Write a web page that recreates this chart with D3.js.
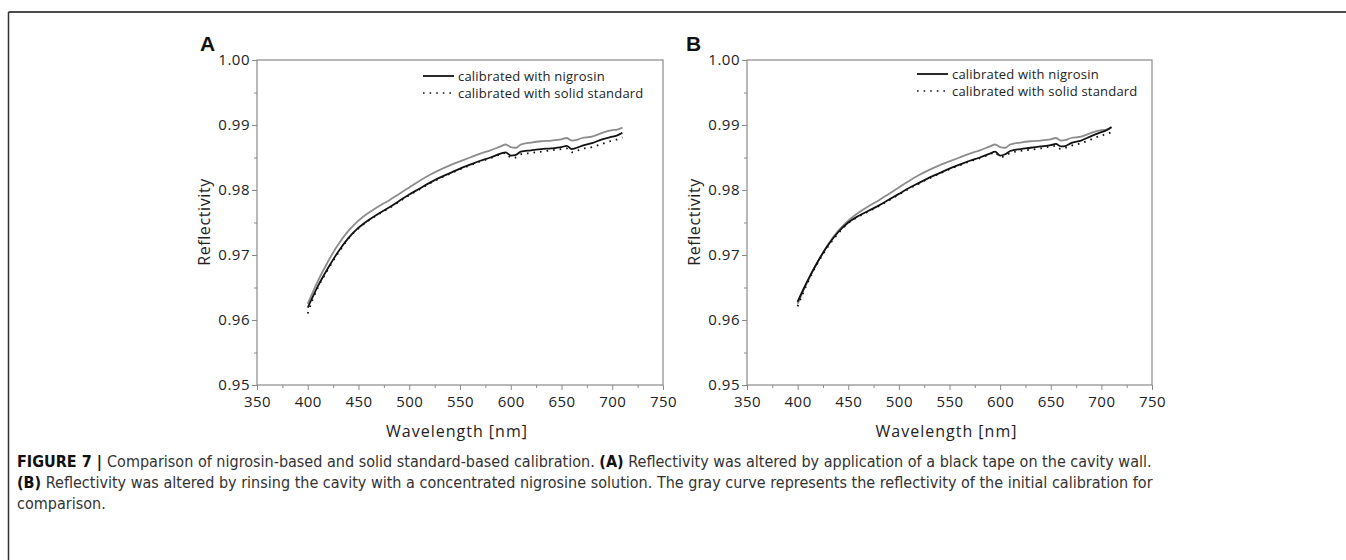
<!DOCTYPE html>
<html><head><meta charset="utf-8">
<script src="https://cdn.jsdelivr.net/npm/d3@7"></script>
<style>
html,body{margin:0;padding:0;background:#fff;}
svg{display:block;}
</style></head>
<body>
<svg id="c" width="1346" height="560"></svg>
<script>
const wavelengths = [400,405,410,420,430,440,450,460,470,480,490,500,510,520,530,540,550,560,570,580,590,595,600,605,610,620,630,640,650,655,660,665,670,680,690,700,705,710];
const initialCalibration = [0.9625,0.9643,0.9660,0.9690,0.9716,0.9737,0.9753,0.9765,0.9775,0.9784,0.9794,0.9804,0.9814,0.9823,0.9831,0.9838,0.9844,0.9850,0.9856,0.9861,0.9867,0.9870,0.9866,0.9865,0.9870,0.9873,0.9875,0.9876,0.9878,0.9880,0.9876,0.9877,0.9880,0.9882,0.9888,0.9892,0.9893,0.9896];
const nigrosinA = [0.9619,0.9636,0.9652,0.9680,0.9705,0.9726,0.9742,0.9754,0.9764,0.9773,0.9783,0.9793,0.9802,0.9811,0.9819,0.9826,0.9833,0.9839,0.9845,0.9850,0.9856,0.9858,0.9853,0.9854,0.9859,0.9861,0.9863,0.9864,0.9866,0.9868,0.9863,0.9865,0.9868,0.9872,0.9878,0.9882,0.9884,0.9888];
const solidA = [0.9610,0.9632,0.9650,0.9678,0.9703,0.9725,0.9741,0.9753,0.9763,0.9772,0.9782,0.9792,0.9801,0.9810,0.9818,0.9825,0.9832,0.9838,0.9844,0.9849,0.9855,0.9857,0.9850,0.9850,0.9855,0.9857,0.9859,0.9861,0.9863,0.9864,0.9858,0.9860,0.9863,0.9866,0.9871,0.9876,0.9878,0.9881];
const nigrosinB = [0.9628,0.9645,0.9661,0.9690,0.9715,0.9735,0.9750,0.9760,0.9768,0.9776,0.9785,0.9794,0.9803,0.9811,0.9819,0.9826,0.9833,0.9839,0.9845,0.9850,0.9856,0.9859,0.9853,0.9855,0.9860,0.9863,0.9865,0.9867,0.9869,0.9871,0.9867,0.9868,0.9872,0.9876,0.9883,0.9889,0.9892,0.9897];
const solidB = [0.9621,0.9640,0.9658,0.9688,0.9713,0.9733,0.9749,0.9759,0.9767,0.9775,0.9784,0.9793,0.9802,0.9810,0.9818,0.9825,0.9832,0.9838,0.9844,0.9849,0.9855,0.9858,0.9851,0.9852,0.9857,0.9860,0.9862,0.9864,0.9867,0.9868,0.9863,0.9865,0.9868,0.9872,0.9878,0.9884,0.9886,0.9889];
const xTicks = [350,400,450,500,550,600,650,700,750];
const yTicks = [0.95,0.96,0.97,0.98,0.99,1.00];
const legendLabels = ["calibrated with nigrosin","calibrated with solid standard"];
const panelLabels = ["A","B"];
const axisTitles = {x:"Wavelength [nm]", y:"Reflectivity"};

const svg = d3.select("#c");
const FONT = "'Open Sans', 'DejaVu Sans', sans-serif";

// outer frame
svg.append("line").attr("x1",8.5).attr("x2",1346).attr("y1",12).attr("y2",12).attr("stroke","#111").attr("stroke-width",1.5);
svg.append("line").attr("x1",8.5).attr("x2",8.5).attr("y1",12).attr("y2",560).attr("stroke","#333").attr("stroke-width",1.5);

const panels = [
  {label:panelLabels[0], left:257, right:663, nig:nigrosinA, sol:solidA, legX:423, legY:76, labX:200},
  {label:panelLabels[1], left:747, right:1152, nig:nigrosinB, sol:solidB, legX:917, legY:74, labX:686}
];
const plotTop = 60, plotBottom = 385;

panels.forEach(p => {
  const x = d3.scaleLinear().domain([350,750]).range([p.left,p.right]);
  const y = d3.scaleLinear().domain([0.95,1.00]).range([plotBottom,plotTop]);
  const g = svg.append("g");

  // plot box
  g.append("rect").attr("x",p.left).attr("y",plotTop).attr("width",p.right-p.left).attr("height",plotBottom-plotTop)
    .attr("fill","none").attr("stroke","#8a8a8a").attr("stroke-width",1.2);

  // minor ticks
  const xMinor = d3.range(375,750,50);
  g.append("g").attr("transform",`translate(0,${plotBottom})`)
    .call(d3.axisBottom(x).tickValues(xMinor).tickSize(3).tickFormat(""))
    .call(a=>a.select(".domain").remove())
    .call(a=>a.selectAll("line").attr("stroke","#8a8a8a"));
  const yMinor = [0.955,0.965,0.975,0.985,0.995];
  g.append("g").attr("transform",`translate(${p.left},0)`)
    .call(d3.axisLeft(y).tickValues(yMinor).tickSize(3).tickFormat(""))
    .call(a=>a.select(".domain").remove())
    .call(a=>a.selectAll("line").attr("stroke","#8a8a8a"));

  // major axes
  const xa = g.append("g").attr("transform",`translate(0,${plotBottom})`)
    .call(d3.axisBottom(x).tickValues(xTicks).tickSize(5).tickPadding(6).tickFormat(d3.format("d")));
  xa.select(".domain").remove();
  xa.selectAll("line").attr("stroke","#8a8a8a");
  xa.selectAll("text").attr("font-family",FONT).attr("font-size",15).attr("fill","#222").attr("letter-spacing","0.5px");

  const ya = g.append("g").attr("transform",`translate(${p.left},0)`)
    .call(d3.axisLeft(y).tickValues(yTicks).tickSize(5).tickPadding(2).tickFormat(d3.format(".2f")));
  ya.select(".domain").remove();
  ya.selectAll("line").attr("stroke","#8a8a8a");
  ya.selectAll("text").attr("font-family",FONT).attr("font-size",15).attr("fill","#222").attr("letter-spacing","0.5px");

  // axis titles
  g.append("text").attr("x",(p.left+p.right)/2 - 3).attr("y",437).attr("text-anchor","middle")
    .attr("font-family",FONT).attr("font-size",16).attr("fill","#222").attr("letter-spacing","1px").text(axisTitles.x);
  g.append("text").attr("transform",`translate(${p.left-47},222) rotate(-90)`).attr("text-anchor","middle")
    .attr("font-family",FONT).attr("font-size",16).attr("fill","#222").attr("letter-spacing","0.6px").text(axisTitles.y);

  // panel label
  g.append("text").attr("x",p.labX).attr("y",51).attr("font-family","'Liberation Sans', Arial, sans-serif")
    .attr("font-weight","bold").attr("font-size",21).attr("fill","#111").text(p.label);

  const line = d3.line().x(d=>x(d[0])).y(d=>y(d[1])).curve(d3.curveMonotoneX);
  const toPts = arr => wavelengths.map((w,i)=>[w,arr[i]]);

  g.append("path").attr("d",line(toPts(initialCalibration))).attr("fill","none").attr("stroke","#8c8c8c").attr("stroke-width",1.8);
  g.append("path").attr("d",line(toPts(p.sol))).attr("fill","none").attr("stroke","#111").attr("stroke-width",1.8)
    .attr("stroke-dasharray","1.6,5");
  g.append("path").attr("d",line(toPts(p.nig))).attr("fill","none").attr("stroke","#111").attr("stroke-width",1.8);

  // legend
  const lg = g.append("g");
  lg.append("line").attr("x1",p.legX).attr("x2",p.legX+31).attr("y1",p.legY).attr("y2",p.legY)
    .attr("stroke","#111").attr("stroke-width",1.8);
  lg.append("line").attr("x1",p.legX).attr("x2",p.legX+31).attr("y1",p.legY+17).attr("y2",p.legY+17)
    .attr("stroke","#111").attr("stroke-width",1.6).attr("stroke-dasharray","1.6,5");
  legendLabels.forEach((t,i)=>{
    lg.append("text").attr("x",p.legX+35).attr("y",p.legY+4.5+i*17).attr("font-family",FONT)
      .attr("font-size",13).attr("fill","#222").attr("letter-spacing","0.2px").text(t);
  });
});

// caption
const capLines = [
  [["FIGURE 7 | ",true],["Comparison of nigrosin-based and solid standard-based calibration. ",false],["(A)",true],[" Reflectivity was altered by application of a black tape on the cavity wall.",false]],
  [["(B)",true],[" Reflectivity was altered by rinsing the cavity with a concentrated nigrosine solution. The gray curve represents the reflectivity of the initial calibration for",false]],
  [["comparison.",false]]
];
const cap = svg.append("g");
const capTexts = capLines.map((ln,i)=>{
  const t = cap.append("text").attr("x",0).attr("y",467+i*21)
    .attr("font-family","'Liberation Sans Narrow','DejaVu Sans Condensed','Liberation Sans',sans-serif")
    .attr("font-size",15).attr("fill","#333");
  ln.forEach(([s,b])=>{
    t.append("tspan").attr("font-weight",b?"bold":"normal").attr("fill",b?"#111":"#333").text(s);
  });
  return t;
});
const w1 = capTexts[0].node().getComputedTextLength();
const k = 1135 / w1;
cap.attr("transform",`translate(17,0) scale(${k},1)`);
</script>
</body></html>
